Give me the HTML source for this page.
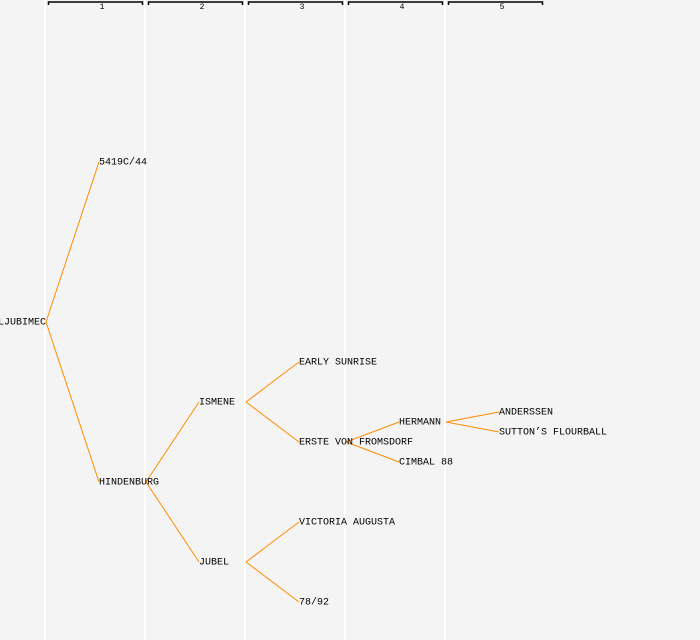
<!DOCTYPE html>
<html><head><style>
body{margin:0;background:#f4f4f4;}
svg{display:block;}
text{font-family:"Liberation Mono",monospace;font-size:10px;fill:#000;}
.h{font-size:8px;}
</style></head><body>
<svg width="700" height="640" xmlns="http://www.w3.org/2000/svg">
<rect width="700" height="640" fill="#f4f4f4"/>
<g stroke="#ffffff" stroke-width="2">
<line x1="45" y1="0" x2="45" y2="640"/><line x1="145" y1="0" x2="145" y2="640"/>
<line x1="245" y1="0" x2="245" y2="640"/><line x1="345" y1="0" x2="345" y2="640"/>
<line x1="445" y1="0" x2="445" y2="640"/>
</g>
<g stroke="#000" fill="none" stroke-width="1.5">
<path d="M48.5 5V2H142.5V5"/><path d="M148.5 5V2H242.5V5"/><path d="M248.5 5V2H342.5V5"/>
<path d="M348.5 5V2H442.5V5"/><path d="M448.5 5V2H542.5V5"/>
</g>
<g class="h" text-anchor="middle">
<text class="h" x="102" y="9">1</text><text class="h" x="202" y="9">2</text><text class="h" x="302" y="9">3</text>
<text class="h" x="402" y="9">4</text><text class="h" x="502" y="9">5</text>
</g>
<g stroke="#ff8c00" stroke-width="1" fill="none">
<path d="M99 162L46 322L99 482"/>
<path d="M199 402L146 482L199 562"/>
<path d="M299 362L246 402L299 442"/>
<path d="M299 522L246 562L299 602"/>
<path d="M399 422L346 442L399 462"/>
<path d="M499 412L446 422L499 432"/>
</g>
<g dominant-baseline="central">
<text x="46" y="323" text-anchor="end">LJUBIMEC</text>
<text x="99" y="163">5419C/44</text>
<text x="99" y="483">HINDENBURG</text>
<text x="199" y="403">ISMENE</text>
<text x="199" y="563">JUBEL</text>
<text x="299" y="363">EARLY SUNRISE</text>
<text x="299" y="443">ERSTE VON FROMSDORF</text>
<text x="299" y="523">VICTORIA AUGUSTA</text>
<text x="299" y="603">78/92</text>
<text x="399" y="423">HERMANN</text>
<text x="399" y="463">CIMBAL 88</text>
<text x="499" y="413">ANDERSSEN</text>
<text x="499" y="433">SUTTON’S FLOURBALL</text>
</g>
</svg>
</body></html>
